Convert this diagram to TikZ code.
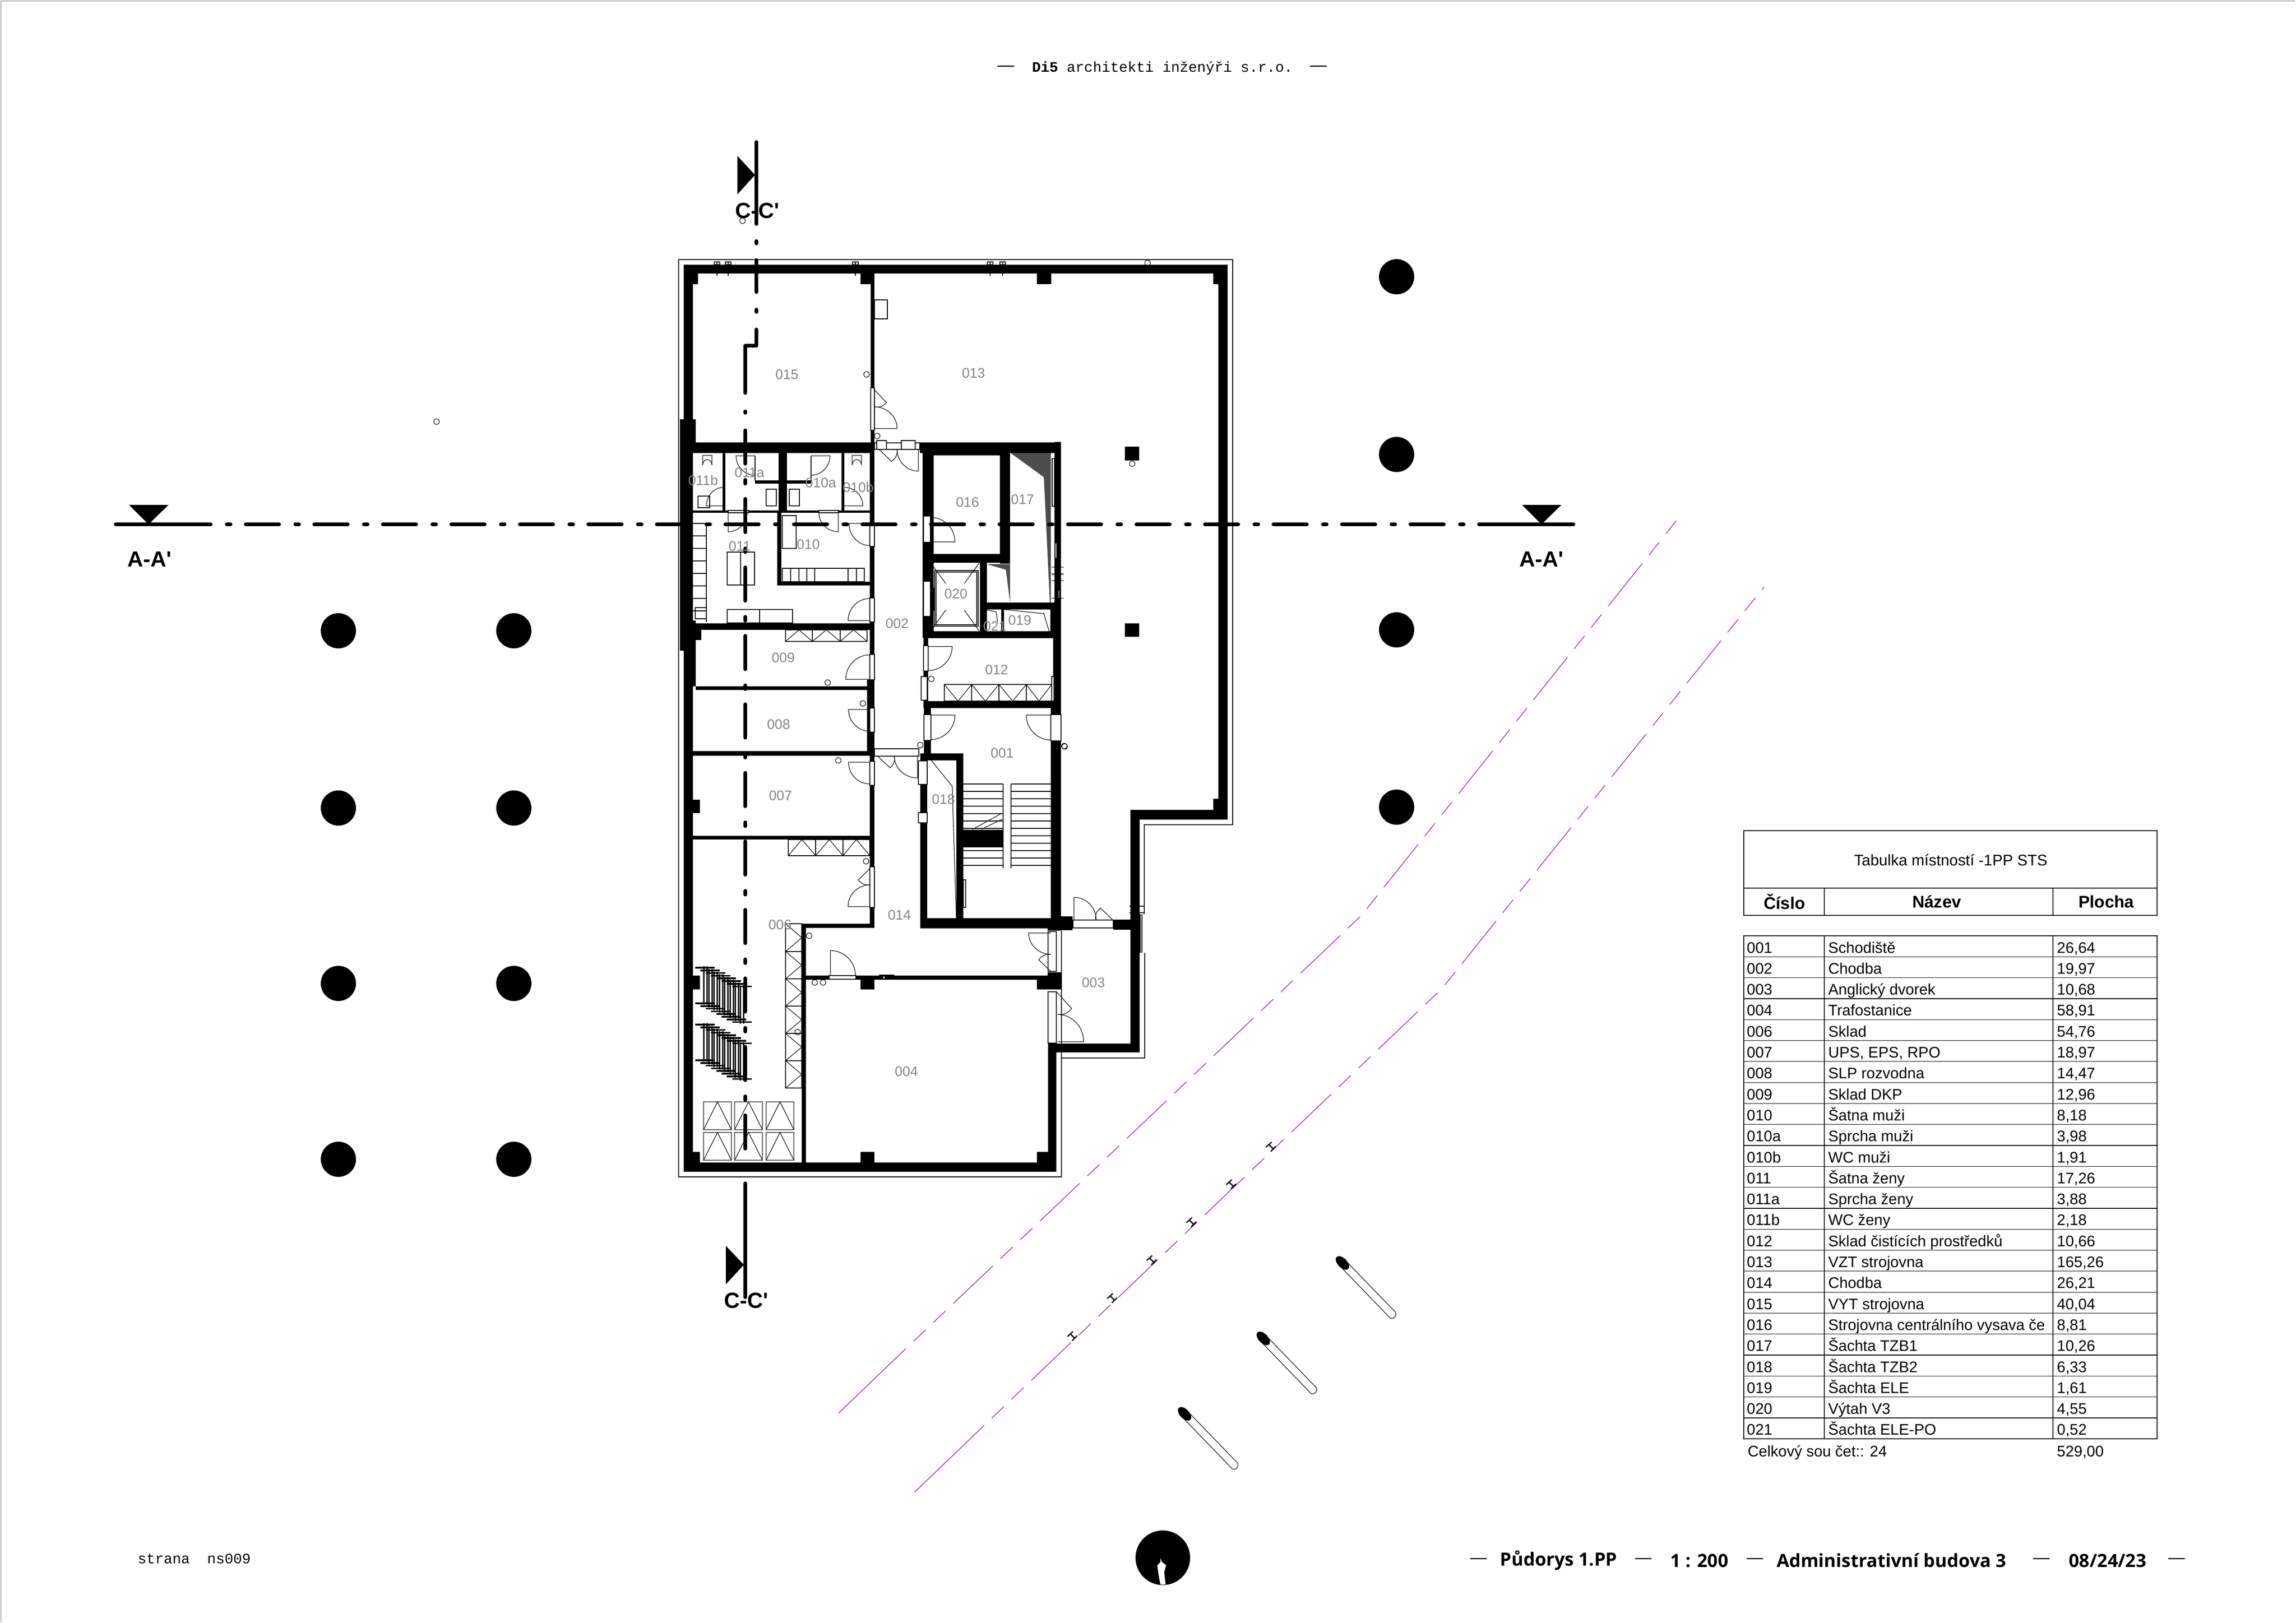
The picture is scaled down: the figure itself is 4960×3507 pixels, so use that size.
\documentclass[tikz,border=0pt]{standalone}
\usepackage{fontspec}
\setmainfont{Liberation Sans}
\setmonofont{Liberation Mono}
\newfontfamily\sheetfont{Open Sans}
\usetikzlibrary{positioning}

\definecolor{roomgray}{HTML}{858585}
\definecolor{shaftgray}{HTML}{4D4D4D}
\definecolor{roadline}{HTML}{A514B0}

\begin{document}
\begin{tikzpicture}[x=.1mm, y=-.1mm, line width=.12mm,
    every node/.style={inner sep=0pt},
    room/.style={text=roomgray, font=\fontsize{8.5}{10}\selectfont},
    cell/.style={anchor=base west, font=\fontsize{9.4}{11}\selectfont},
    headcell/.style={font=\bfseries\fontsize{10.4}{12}\selectfont},
    sectionlabel/.style={font=\bfseries\fontsize{13.4}{15}\selectfont},
    sectionline/.style={line width=.8mm, line cap=round, line join=round},
    sectiondash/.style={sectionline, dash pattern=on 7.2mm off 3.5mm on .8mm off 3.3mm},
    road/.style={draw=roadline, line width=.14mm},
    roaddash/.style={road, dash pattern=on 11.8mm off 2.3mm on 3.6mm off 2.3mm on 3.6mm off 2.3mm, dash phase=11.8mm},
    frame/.style={draw=black, fill=white},
    mono/.style={font=\ttfamily\fontsize{8.9}{11}\selectfont},
    sheet/.style={font=\sheetfont\bfseries\fontsize{11.2}{13}\selectfont},
    rule/.style={font=\fontsize{10.2}{12}\selectfont}]
  \useasboundingbox (0,0) rectangle (4960,3507);
  \draw[gray!60] (2,3505) -- (2,2) -- (4958,2);

  % outline of the slab
  \draw (2472,1975) -- (2472,1782) -- (2663,1782) -- (2663,561) -- (1466,561)
        -- (1466,2543) -- (2293,2543) -- (2293,2286) -- (2473,2286) -- (2473,2059);
  \draw (2293,2286) -- (2293,2011);
  \draw (2463,1975) -- (2463,2059) (2467,1975) -- (2467,2059);
  \foreach \y in {1958,1972} \draw (2440,\y) -- (2472,\y);
  \foreach \x in {1543,1567,1842,2133,2160} {
    \draw (\x,566) rectangle ++(12,6);
    \draw (\x+6,566) -- ++(0,30);
  }

  % columns outside
  \foreach \x/\y in {731/1363, 731/1746, 731/2125, 731/2505,
                     1110/1363, 1110/1746, 1110/2125, 1110/2505,
                     3017/598, 3017/982, 3017/1361, 3017/1744}
    \fill (\x,\y) circle (38);

  % racks
  \foreach \xa/\xb/\ya/\yb in {1697/1755/1386/1361, 1755/1815/1386/1361, 1815/1873/1386/1361,
                               1703/1762/1849/1814, 1762/1821/1849/1814, 1821/1879/1849/1814,
                               2040/2099/1479/1515, 2099/2158/1479/1515, 2158/2217/1479/1515, 2217/2272/1479/1515} {
    \draw (\xa,\ya) rectangle (\xb,\yb);
    \draw (\xa,\ya) -- ({(\xa+\xb)/2},\yb) -- (\xb,\ya);
  }
  \foreach \ya/\yb in {1996/2056, 2056/2115, 2115/2174, 2174/2233, 2233/2292, 2292/2351} {
    \draw (1697,\ya) rectangle (1732,\yb);
    \draw (1697,\ya) -- (1732,{(\ya+\yb)/2}) -- (1697,\yb);
  }
  \foreach \x in {1520,1587,1655}
    \foreach \y in {2381,2447} {
      \draw[gray!70!black] (\x,\y) rectangle ++(60,60);
      \draw (\x,\y+60) -- (\x+30,\y) -- (\x+60,\y+60);
    }
  \foreach \gy in {2091,2214}
    \foreach \i in {0,...,7} {
      \pgfmathsetmacro\rx{1502+11.4*\i}
      \pgfmathsetmacro\ry{\gy+5.8*\i}
      \draw[line width=.35mm] (\rx,\ry) -- ++(42,0) (\rx,\ry+77) -- ++(42,0);
      \draw[line width=.3mm] (\rx+18,\ry-3) -- ++(0,83) (\rx+25,\ry-3) -- ++(0,83);
    }

  % furniture
  \foreach \xa/\ya/\xb/\yb in {1889/648/1917/689, 1690/1114/1720/1185, 1571/1193/1630/1264,
                               1571/1317/1641/1346, 1641/1317/1712/1346, 1502/1313/1526/1337,
                               1508/1072/1533/1097, 1655/1057/1677/1093, 1705/1057/1727/1093,
                               1690/1228/1708/1257, 1708/1228/1726/1257, 1726/1228/1743/1257,
                               1743/1228/1760/1257, 1760/1228/1832/1257, 1832/1228/1850/1257,
                               1850/1228/1867/1257, 2081/1901/2086/1961}
    \draw (\xa,\ya) rectangle (\xb,\yb);
  \draw (1600,1193) -- (1600,1264);
  \draw (1526,1131) -- (1526,1344);
  \foreach \y in {1131,1158,...,1344} \draw (1497,\y) -- (1526,\y);
  \foreach \x in {1528,1851}
    \draw (\x-10,984) -- (\x-10,1005) arc [start angle=180, end angle=0, x radius=10, y radius=-12] -- (\x+10,984) -- cycle;

  % stairs
  \foreach \y in {1694,1710,...,1880} {
    \draw (2081,\y) -- (2167,\y);
    \draw (2184,\y) -- (2270,\y);
  }
  \draw (2167,1694) -- (2167,1876) (2184,1694) -- (2184,1876);
  \draw (2101,1792) -- (2165,1757) (2120,1792) -- (2165,1770);

  % shafts
  \fill[shaftgray] (2182,978) -- (2270,978) -- (2270,1302) -- (2268,1302) -- (2255,1031) -- cycle;
  \fill[shaftgray] (2132,1219) -- (2182,1219) -- (2182,1302) -- (2173,1231) -- cycle;
  \draw (2012,1643) -- (2057,1699) -- (2066,1984);
  \draw (2169,1317) -- (2255,1326) -- (2269,1373);
  \draw (2132,1318) -- (2152,1322) -- (2155,1344);

  % lift
  \draw (2019,1233) rectangle (2113,1353);
  \draw (2022,1236) rectangle (2110,1350);
  \foreach \xa/\ya/\xb/\yb in {2011/1217/2043/1261, 2115/1217/2083/1261,
                               2011/1363/2043/1318, 2115/1363/2083/1318}
    \draw (\xa,\ya) -- (\xb,\yb);

  % walls
  \foreach \xa/\ya/\xb/\yb in {
      1477/572/2652/591, 1477/572/1497/2532, 1497/591/1508/614, 1859/591/1889/614,
      2240/591/2271/614, 2621/590/2632/614, 2632/572/2652/1771, 2621/1726/2632/1750,
      2442/1750/2652/1771, 2442/1750/2462/2274, 2264/2255/2462/2274, 1477/2512/2282/2532,
      2264/2254/2282/2532, 1469/906/1503/979, 1469/979/1497/1341, 1469/1341/1503/1406,
      1477/1406/1503/1483, 1497/1728/1512/1757, 1497/2108/1512/2138, 1497/2489/1512/2512,
      1497/1361/1515/1383, 1503/956/1889/979, 1881/614/1889/956, 1987/956/2292/979,
      1993/979/2160/984, 2278/955/2292/1302, 2269/1302/2292/1378, 2275/1378/2292/1530,
      2270/1530/2292/2006, 1993/971/2017/1378, 2160/978/2182/1218, 1993/1197/2182/1216,
      2117/1216/2132/1379, 2132/1302/2270/1317, 2163/1317/2169/1373, 1995/1364/2292/1379,
      1995/1379/2005/1530, 1996/1515/2286/1530, 1996/1530/2011/1630, 1988/1628/2081/1643,
      1988/1628/2003/2006, 2066/1628/2081/2006, 1988/1984/2292/2006, 2081/1793/2167/1831,
      1879/979/1889/2005, 1873/1469/1889/1633, 1497/1103/1889/1108, 1679/1108/1688/1265,
      1679/1257/1889/1265, 1497/1347/1889/1361, 1503/1483/1889/1491, 1497/1623/1889/1633,
      1497/1806/1889/1814, 1732/1996/1889/2005, 1732/1996/1741/2512, 1561/979/1567/1103,
      1682/979/1700/1103, 1818/979/1824/1103, 1631/1038/1682/1045, 1700/1038/1752/1045,
      1741/2108/2264/2117, 1859/2117/1889/2138, 2240/2109/2292/2138, 2263/2101/2292/2109,
      1859/2489/1889/2512, 2240/2489/2264/2512, 2405/1987/2442/2009, 2292/1980/2317/2010,
      2263/2006/2292/2011, 2430/965/2461/995, 2430/1347/2461/1376, 1899/2106/1932/2108}
    \fill (\xa,\ya) rectangle (\xb,\yb);
  \draw (1631,985) -- (1631,1038) (1752,985) -- (1752,1038);

  % door frames
  \foreach \xa/\ya/\xb/\yb in {
      1879/1530/1889/1582, 1879/1645/1889/1697, 1879/1414/1889/1469, 1879/1873/1889/1961,
      1879/1292/1889/1344, 1879/1131/1889/1181, 1881/838/1889/930, 1995/1395/2005/1450,
      1990/1462/2003/1513, 1996/1544/2011/1600, 2270/1544/2292/1601, 1889/957/1987/971,
      1889/1618/1985/1634, 1995/1115/2010/1172, 1995/1256/2010/1332, 1791/2108/1849/2116,
      2264/2013/2282/2099, 2264/2143/2282/2254, 2318/1988/2405/2005, 1573/1103/1617/1108,
      1769/1103/1811/1108, 2273/991/2278/1094, 2279/1173/2283/1206, 2286/1275/2289/1294,
      2272/1462/2277/1515, 1984/1644/2003/1695, 1984/1756/2003/1778, 1907/2109/1912/2115,
      1894/952/1915/971, 1947/952/1977/971}
    \draw[frame] (\xa,\ya) rectangle (\xb,\yb);
  \foreach \y in {1225,1239,1241,1254,1292} \draw[line width=.08mm] (2272,\y) -- (2298,\y);
  \fill (2013,1270) rectangle (2018,1320);

  % door leaves
  \foreach \hx/\hy/\rx/\ry in {
      1879/1533/-46/47, 1879/1647/-46/47, 1880/1131/-46/48, 2005/1397/52/52,
      2011/1545/52/53, 2270/1545/-53/54, 2270/2016/-48/46, 1879/1468/-52/-53,
      1880/1341/-48/-48, 1879/1959/-47/-47, 1889/926/49/-47, 2011/1171/52/-53,
      2285/2251/56/-59, 1563/1093/-37/-40, 1824/1093/40/-40, 1752/985/41/42, 1631/985/-41/42}
    \draw (\hx,\hy) -- ++(\rx,0) .. controls +(0,{.55*\ry}) and +({.55*\rx},0) .. ++({-\rx},\ry);
  \foreach \hx/\hy/\rx/\ry in {
      1794/2108/54/-54, 2320/1987/48/-48, 1573/1108/41/41, 1811/1108/-42/41,
      1984/971/-46/47, 1982/1634/-50/47}
    \draw (\hx,\hy) -- ++(0,\ry) .. controls +({.55*\rx},0) and +(0,{.55*\ry}) .. ++(\rx,{-\ry});
  \foreach \xa/\ya/\xb/\yb/\xc/\yc/\side in {
      1899/971/1926/997/1938/971/right, 1896/1634/1923/1659/1932/1634/right,
      1889/842/1915/870/1889/879/left, 1879/1877/1854/1901/1879/1912/right,
      2270/2099/2244/2074/2270/2062/left, 2282/2143/2315/2179/2285/2192/left,
      2403/1987/2377/1962/2367/1987/right}
    \draw (\xa,\ya) -- (\xb,\yb) to[bend \side=30] (\xc,\yc);

  % small circles
  \foreach \x/\y in {943/911, 1604/477, 2479/568, 2446/1002, 2300/1613, 1872/809, 1895/942,
                     1788/1475, 1864/1520, 1988/1610, 2299/1612, 1811/1643, 1871/1861,
                     1748/2022, 1760/2123, 1778/2123, 2012/1467, 1723/2230}
    \draw (\x,\y) circle (6);

  % road and lamps
  \draw[road] (1812,3053) -- (1957,2914);
  \draw[roaddash] (1957,2914) -- (2942,1977) -- (3631,1113);
  \draw[road] (1976,3224) -- (2126,3080);
  \draw[roaddash] (2126,3080) -- (3116,2135) -- (3811,1268);
  \foreach \x/\y in {2317/2887, 2403/2805, 2488/2723, 2574/2641, 2660/2559, 2746/2478} {
    \draw[line width=.25mm] (\x-11,\y+1) -- (\x+1,\y-10) (\x-1,\y+10) -- (\x+10,\y-1)
                            (\x-5,\y-5) -- (\x+5,\y+5);
  }
  \foreach \x/\y in {2900/2729, 2729/2892, 2559/3055} {
    \begin{scope}[shift={(\x,\y)}, rotate=-46]
      \draw (8,-8.5) -- (155,-8.5) .. controls (162,-8.5) and (166,4) .. (158,8.5) -- (8,8.5);
      \fill (0,0) ellipse [x radius=18, y radius=10];
    \end{scope}
  }

  % section A-A
  \draw[sectionline] (250,1133) -- (455,1133);
  \draw[sectionline, dash pattern=on .8mm off 3.3mm on 7.2mm off 3.5mm] (490,1133) -- (3166,1133);
  \draw[sectionline] (3195,1133) -- (3399,1133);
  \fill (279,1091) -- (364,1091) -- (321,1133) -- cycle;
  \fill (3288,1091) -- (3373,1091) -- (3330,1133) -- cycle;
  \node[sectionlabel] (sectionAleft) at (323,1208) {A-A\textquotesingle};
  \node[sectionlabel] (sectionAright) at (3330,1208) {A-A\textquotesingle};

  % section C-C
  \draw[sectionline] (1634,307) -- (1634,484);
  \draw[sectionline] (1634,521) -- (1634,526);
  \draw[sectionline] (1634,562) -- (1634,631);
  \draw[sectionline] (1634,669) -- (1634,674);
  \draw[sectionline] (1634,712) -- (1634,747) -- (1610,747) -- (1610,849);
  \draw[sectionline] (1610,889) -- (1610,892);
  \draw[sectiondash] (1610,930) -- (1610,2482);
  \draw[sectionline] (1610,2557) -- (1610,2803);
  \fill (1593,337) -- (1631,378) -- (1593,420) -- cycle;
  \fill (1568,2692) -- (1607,2733) -- (1568,2775) -- cycle;
  \node[sectionlabel] (sectionCtop) at (1636,455) {C-C\textquotesingle};
  \node[sectionlabel] (sectionCbottom) at (1612,2810) {C-C\textquotesingle};

  % room numbers
  \foreach \lab/\x/\y in {015/1700/809, 013/2103/806, 011b/1519/1038, 011a/1619/1021,
                          010a/1773/1043, 010b/1854/1053, 016/2090/1085, 017/2209/1079,
                          011/1598/1180, 010/1746/1176, 020/2065/1283, 002/1938/1347,
                          021/2149/1353, 019/2203/1340, 009/1692/1421, 012/2153/1447,
                          008/1682/1565, 001/2165/1627, 007/1686/1719, 018/2038/1727,
                          014/1943/1977, 006/1685/1998, 003/2362/2123, 004/1958/2315}
    \node[room] (room\lab) at (\x,\y) {\lab};

  % table of rooms
  \draw (3767,1795) rectangle (4660,1978);
  \draw (3767,1919) -- (4660,1919);
  \draw (3941,1919) -- (3941,1978) (4435,1919) -- (4435,1978);
  \node[font=\fontsize{9.5}{11}\selectfont] (tabletitle) at (4214,1858) {Tabulka místností -1PP STS};
  \node[headcell] (headnum) at (3855,1948) {Číslo};
  \node[headcell] (headname) at (4184,1948) {Název};
  \node[headcell] (headarea) at (4550,1948) {Plocha};
  \draw (3767,2022) rectangle (4660,3109);
  \draw (3941,2022) -- (3941,3109) (4435,2022) -- (4435,3109);
  \foreach \num/\title/\area [count=\i] in {
      001/Schodiště/{26,64}, 002/Chodba/{19,97}, 003/Anglický dvorek/{10,68},
      004/Trafostanice/{58,91}, 006/Sklad/{54,76}, 007/{UPS, EPS, RPO}/{18,97},
      008/SLP rozvodna/{14,47}, 009/Sklad DKP/{12,96}, 010/Šatna muži/{8,18},
      010a/Sprcha muži/{3,98}, 010b/WC muži/{1,91}, 011/Šatna ženy/{17,26},
      011a/Sprcha ženy/{3,88}, 011b/WC ženy/{2,18}, 012/Sklad čistících prostředků/{10,66},
      013/VZT strojovna/{165,26}, 014/Chodba/{26,21}, 015/VYT strojovna/{40,04},
      016/Strojovna centrálního vysava če/{8,81}, 017/Šachta TZB1/{10,26},
      018/Šachta TZB2/{6,33}, 019/Šachta ELE/{1,61}, 020/Výtah V3/{4,55},
      021/Šachta ELE-PO/{0,52}} {
    \pgfmathsetmacro\rowy{2022+45.3*(\i-1)}
    \ifnum\i>1 \draw (3767,\rowy) -- (4660,\rowy); \fi
    \node[cell] (num\i) at (3773,\rowy+37) {\num};
    \node[cell] (title\i) at (3949,\rowy+37) {\title};
    \node[cell] (area\i) at (4443,\rowy+37) {\area};
  }
  \node[cell] (totallabel) at (3775,3147) {Celkový sou čet:: 24};
  \node[cell] (totalarea) at (4443,3147) {529,00};

  % heading and sheet line
  \node[rule] (headleft) at (2173,147) {—};
  \node[mono, anchor=west] (office) at (2229,147) {\textbf{Di5} architekti inženýři s.r.o.};
  \node[rule] (headright) at (2848,147) {—};
  \node[mono, anchor=west] (pagemark) at (297,3368) {strana\ \ ns009};
  \fill (2512,3366) circle (59);
  \fill[white] (2507,3367) -- (2510,3375) -- (2519,3382) -- (2515,3397) -- (2518,3424)
               -- (2507,3424) -- (2504,3410) -- (2500,3383) -- (2507,3375) -- cycle;
  \foreach \x [count=\i] in {3194,3550,3791,4410,4702}
    \node[rule] (sheetrule\i) at (\x,3372) {—};
  \node[sheet] (sheetplan) at (3367,3372) {Půdorys 1.PP};
  \node[sheet] (sheetscale) at (3671,3372) {1 : 200};
  \node[sheet] (sheetbuilding) at (4086,3372) {Administrativní budova 3};
  \node[sheet] (sheetdate) at (4553,3372) {08/24/23};
\end{tikzpicture}
\end{document}
